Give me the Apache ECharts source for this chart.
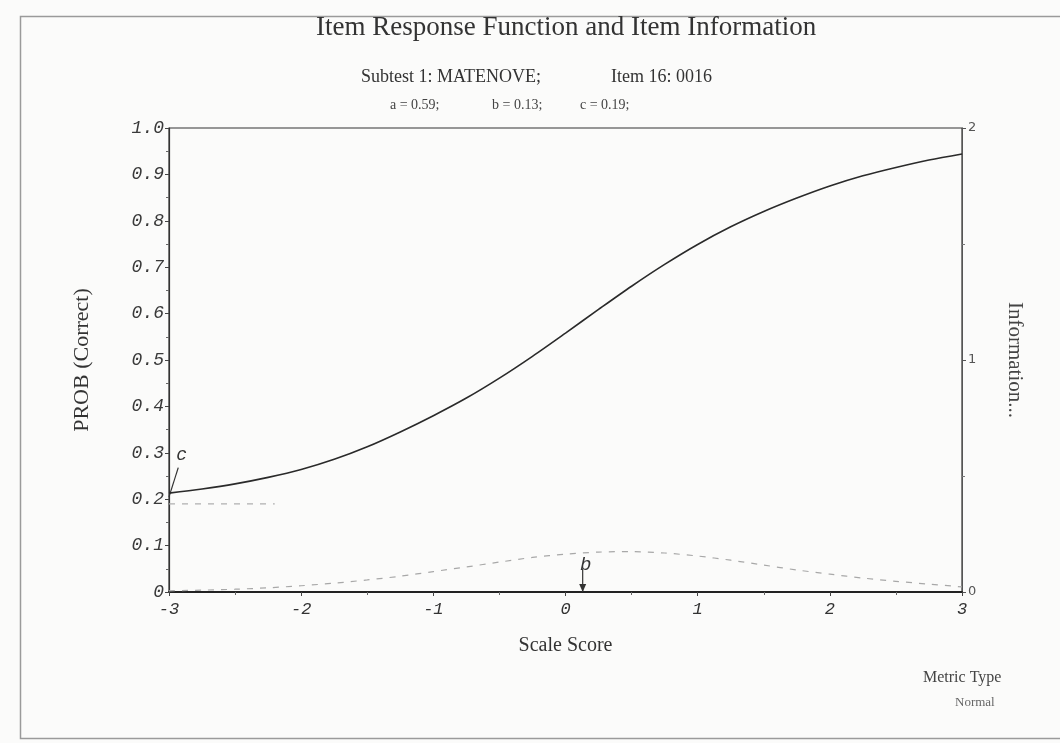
<!DOCTYPE html>
<html>
<head>
<meta charset="utf-8">
<script src="https://cdn.jsdelivr.net/npm/echarts@6/dist/echarts.min.js"></script>
<style>
html,body{margin:0;padding:0;background:#fbfbfa;}
#chart{width:1060px;height:743px;}
</style>
</head>
<body>
<div id="chart"></div>
<script>
// ---- data ----
const theta = [-3,-2.75,-2.5,-2.25,-2,-1.75,-1.5,-1.25,-1,-0.75,-0.5,-0.25,0,0.25,0.5,0.75,1,1.25,1.5,1.75,2,2.25,2.5,2.75,3];
const probCorrect = [0.213,0.222,0.233,0.247,0.264,0.286,0.313,0.345,0.380,0.418,0.461,0.508,0.558,0.609,0.659,0.706,0.749,0.787,0.820,0.849,0.875,0.897,0.915,0.931,0.944];
const information = [0.005,0.008,0.012,0.018,0.027,0.038,0.052,0.068,0.088,0.108,0.129,0.149,0.163,0.172,0.174,0.168,0.155,0.137,0.116,0.095,0.077,0.060,0.046,0.034,0.022];
const paramA = 0.59, paramB = 0.13, paramC = 0.19;
const cGuideX = [-3, -2.2];                       // extent of the dashed c guide
const cPointer = [[-3, 0.205], [-2.93, 0.268]];   // c pointer line (data coords)
const bPointer = [[paramB, 0], [paramB, 0.05]];   // b arrow, tip first (data coords)
const xTicks = [-3,-2,-1,0,1,2,3];
const yLeftTicks = [0,0.1,0.2,0.3,0.4,0.5,0.6,0.7,0.8,0.9,1.0];
const yRightTicks = [0,1,2];

const irf = theta.map((t,i)=>[t, probCorrect[i]]);
const info = theta.map((t,i)=>[t, information[i]]);

const chart = echarts.init(document.getElementById('chart'));
const serif = '"Liberation Serif", "DejaVu Serif", serif';
const mono = '"Liberation Mono", "DejaVu Sans Mono", monospace';

chart.setOption({
  backgroundColor: '#fbfbfa',
  animation: false,
  title: [
    {text: 'Item Response Function and Item Information', left: 311, top: 9,
     textStyle: {fontFamily: serif, fontSize: 27, fontWeight: 'normal', color: '#333'}},
    {text: 'Subtest 1: MATENOVE;', left: 356, top: 63,
     textStyle: {fontFamily: serif, fontSize: 18, fontWeight: 'normal', color: '#333'}},
    {text: 'Item 16: 0016', left: 606, top: 63,
     textStyle: {fontFamily: serif, fontSize: 18, fontWeight: 'normal', color: '#333'}},
    {text: 'a = ' + paramA.toFixed(2) + ';', left: 385, top: 93,
     textStyle: {fontFamily: serif, fontSize: 14, fontWeight: 'normal', color: '#444'}},
    {text: 'b = ' + paramB.toFixed(2) + ';', left: 487, top: 93,
     textStyle: {fontFamily: serif, fontSize: 14, fontWeight: 'normal', color: '#444'}},
    {text: 'c = ' + paramC.toFixed(2) + ';', left: 575, top: 93,
     textStyle: {fontFamily: serif, fontSize: 14, fontWeight: 'normal', color: '#444'}},
    {text: 'Metric Type', left: 918, top: 665,
     textStyle: {fontFamily: serif, fontSize: 16, fontWeight: 'normal', color: '#444'}},
    {text: 'Normal', left: 950, top: 691,
     textStyle: {fontFamily: serif, fontSize: 13, fontWeight: 'normal', color: '#666'}}
  ],
  graphic: [{
    type: 'rect', left: 18, top: 14, z: -1,
    shape: {width: 1060, height: 722},
    style: {fill: 'none', stroke: '#9a9a9a', lineWidth: 1.5}
  }],
  grid: {left: 169, right: 98, top: 128, bottom: 151, show: true,
         borderColor: '#333', borderWidth: 1.2, backgroundColor: 'transparent'},
  xAxis: {
    type: 'value', min: -3, max: 3, interval: 1,
    name: 'Scale Score', nameLocation: 'middle', nameGap: 44,
    nameTextStyle: {fontFamily: serif, fontSize: 20, color: '#333'},
    axisLine: {show: true, onZero: false, lineStyle: {color: '#222', width: 2}},
    axisTick: {show: true, length: 4, lineStyle: {color: '#444'}},
    minorTick: {show: true, splitNumber: 2, length: 3, lineStyle: {color: '#666'}},
    splitLine: {show: false},
    axisLabel: {fontFamily: mono, fontStyle: 'italic', fontSize: 17, color: '#333', margin: 9,
                formatter: v => xTicks.includes(v) ? String(v) : ''}
  },
  yAxis: [{
    type: 'value', min: 0, max: 1, interval: 0.1, position: 'left',
    name: 'PROB (Correct)', nameLocation: 'middle', nameGap: 76, nameRotate: 90,
    nameTextStyle: {fontFamily: serif, fontSize: 22, color: '#333'},
    axisLine: {show: true, onZero: false, lineStyle: {color: '#333', width: 1.2}},
    axisTick: {show: true, length: 4, lineStyle: {color: '#444'}},
    minorTick: {show: true, splitNumber: 2, length: 3, lineStyle: {color: '#666'}},
    splitLine: {show: false},
    axisLabel: {fontFamily: mono, fontStyle: 'italic', fontSize: 18, color: '#3a3a3a', margin: 5,
                formatter: v => {
                  const t = yLeftTicks.find(x => Math.abs(x - v) < 1e-9);
                  if (t === undefined) return '';
                  if (t === 0) return '0';
                  return t.toFixed(1);
                }}
  }, {
    type: 'value', min: 0, max: 2, interval: 1, position: 'right',
    name: 'Information...', nameLocation: 'middle', nameGap: 42, nameRotate: -90,
    nameTextStyle: {fontFamily: serif, fontSize: 21, color: '#444'},
    axisLine: {show: true, onZero: false, lineStyle: {color: '#555', width: 1}},
    axisTick: {show: true, length: 4, lineStyle: {color: '#555'}},
    minorTick: {show: true, splitNumber: 2, length: 3, lineStyle: {color: '#777'}},
    splitLine: {show: false},
    axisLabel: {fontFamily: '"DejaVu Sans", sans-serif', fontSize: 13, color: '#555', margin: 6,
                formatter: v => yRightTicks.includes(v) ? String(v) : ''}
  }],
  series: [{
    name: 'IRF', type: 'line', data: irf, smooth: 0.3, showSymbol: false, symbol: 'none', yAxisIndex: 0,
    lineStyle: {color: '#2a2a2a', width: 1.6}, z: 5
  }, {
    name: 'Information', type: 'line', data: info, smooth: 0.3, showSymbol: false, symbol: 'none', yAxisIndex: 1,
    lineStyle: {color: '#a8a8a8', width: 1.2, type: [6, 7]}
  }, {
    name: 'c guide', type: 'line', data: cGuideX.map(x => [x, paramC]), showSymbol: false, symbol: 'none', yAxisIndex: 0,
    lineStyle: {color: '#b0b0b0', width: 1.2, type: [6, 7]}
  }, {
    name: 'c pointer', type: 'line', data: cPointer, showSymbol: false, symbol: 'none', yAxisIndex: 0,
    lineStyle: {color: '#333', width: 1.2},
    endLabel: {show: true, formatter: 'c', fontFamily: mono, fontStyle: 'italic', fontSize: 18,
               color: '#333', offset: [-10, -12]}
  }, {
    name: 'b pointer', type: 'line', data: bPointer, showSymbol: false, symbol: 'none', yAxisIndex: 0,
    lineStyle: {color: '#333', width: 1.2},
    endLabel: {show: true, formatter: 'b', fontFamily: mono, fontStyle: 'italic', fontSize: 19,
               color: '#333', align: 'center', verticalAlign: 'bottom', offset: [-5, 6]},
    markPoint: {
      symbol: 'triangle', symbolSize: [7, 8], symbolRotate: 180, itemStyle: {color: '#333'},
      label: {show: false}, silent: true,
      data: [{coord: bPointer[0], symbolOffset: [0, -4]}]
    }
  }]
});
</script>
</body>
</html>
